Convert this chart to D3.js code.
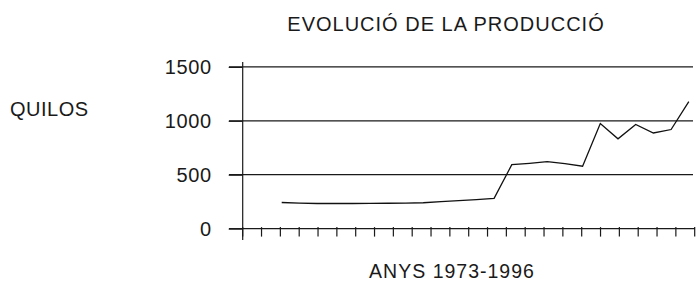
<!DOCTYPE html>
<html>
<head>
<meta charset="utf-8">
<script src="https://cdn.jsdelivr.net/npm/d3@7/dist/d3.min.js"></script>
<style>
  html, body { margin: 0; padding: 0; background: #fff; }
  svg { display: block; }
  text { font-family: "Liberation Sans", Arial, Helvetica, sans-serif; fill: #1a1a1a; }
</style>
</head>
<body>
<svg id="chart" width="697" height="284"></svg>
<script>
const title = "EVOLUCIÓ DE LA PRODUCCIÓ";
const yAxisTitle = "QUILOS";
const xAxisTitle = "ANYS 1973-1996";
const years = d3.range(1973, 1997);
const production = [242, 236, 233, 233, 233, 234, 235, 236, 240, 250, 259, 269, 280,
                    593, 606, 621, 603, 579, 975, 833, 966, 887, 919, 1177];
const yTicks = [0, 500, 1000, 1500];
const gridValues = [500, 1000, 1500];

const svg = d3.select("#chart");

const y = d3.scaleLinear().domain([0, 1500]).range([228.6, 66.9]);
const xLine = d3.scalePoint().domain(years).range([281.7, 688.8]);
const xBand = d3.scaleBand().domain(years).range([242.7, 694.7]);

// gridlines
svg.append("g").selectAll("line").data(gridValues).join("line")
  .attr("x1", 229).attr("x2", 693)
  .attr("y1", d => y(d)).attr("y2", d => y(d))
  .attr("stroke", "#1a1a1a").attr("stroke-width", 1.3);

// y axis
const yAxis = d3.axisLeft(y).tickValues(yTicks).tickSize(14).tickPadding(17).tickFormat(d3.format("d"));
const gy = svg.append("g").attr("transform", "translate(242.7,0)").call(yAxis);
gy.select(".domain").remove();
gy.selectAll(".tick line").attr("stroke", "#1a1a1a").attr("stroke-width", 1.2);
gy.selectAll(".tick text").attr("font-size", 20).attr("letter-spacing", 0.6)
  .attr("font-family", "Liberation Sans, Arial, sans-serif").attr("fill", "#1a1a1a");
svg.append("line").attr("x1", 242.7).attr("x2", 242.7).attr("y1", 62).attr("y2", 240)
  .attr("stroke", "#1a1a1a").attr("stroke-width", 1.2);

// x axis
svg.append("line").attr("x1", 229).attr("x2", 695).attr("y1", y(0)).attr("y2", y(0))
  .attr("stroke", "#1a1a1a").attr("stroke-width", 1.2);
const tickPositions = years.map(d => xBand(d)).concat([xBand(years[years.length - 1]) + xBand.bandwidth()]);
svg.append("g").selectAll("line").data(tickPositions).join("line")
  .attr("x1", d => d).attr("x2", d => d)
  .attr("y1", y(0) - 1.5).attr("y2", y(0) + 8)
  .attr("stroke", "#1a1a1a").attr("stroke-width", 1.2);

// data line
const line = d3.line().x((d, i) => xLine(years[i])).y(d => y(d));
svg.append("path").datum(production)
  .attr("d", line)
  .attr("fill", "none").attr("stroke", "#111").attr("stroke-width", 1.3)
  .attr("stroke-linejoin", "miter");

// titles
svg.append("text").attr("x", 446).attr("y", 30.7).attr("text-anchor", "middle")
  .attr("font-size", 20).attr("letter-spacing", 1).text(title);
svg.append("text").attr("x", 452).attr("y", 278).attr("text-anchor", "middle")
  .attr("font-size", 19.5).attr("letter-spacing", 1).text(xAxisTitle);
svg.append("text").attr("x", 10).attr("y", 116)
  .attr("font-size", 20).attr("letter-spacing", 0.5).text(yAxisTitle);
</script>
</body>
</html>
